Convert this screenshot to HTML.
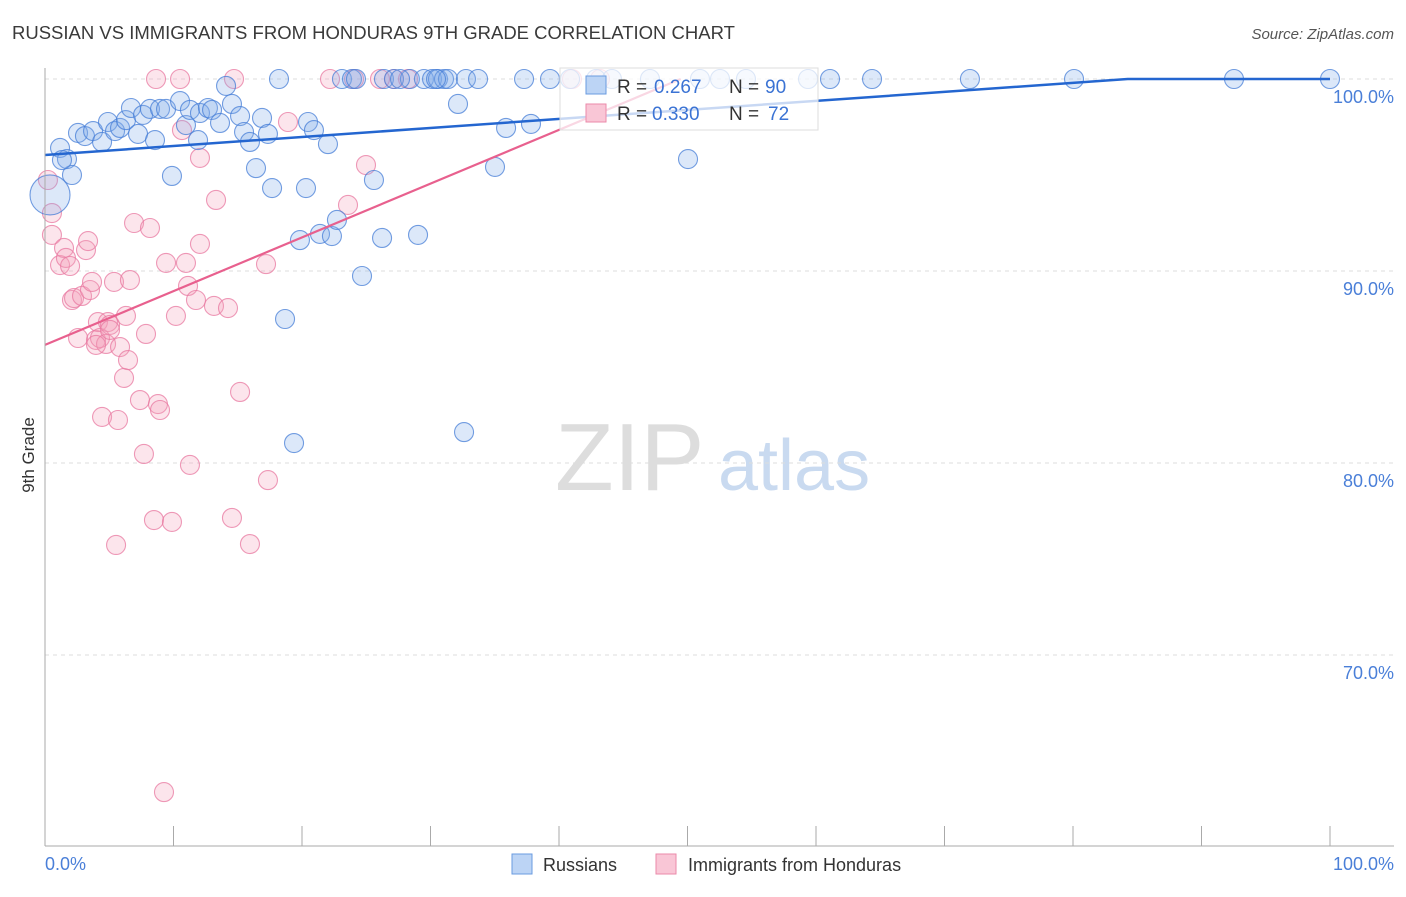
<!DOCTYPE html>
<html><head><meta charset="utf-8"><style>
body{margin:0;background:#fff;font-family:"Liberation Sans",sans-serif}
svg text{font-family:"Liberation Sans",sans-serif}
</style></head><body>
<svg id="chart" width="1406" height="892" xmlns="http://www.w3.org/2000/svg">
<text x="12" y="39" font-size="18.5" fill="#3a3a3a">RUSSIAN VS IMMIGRANTS FROM HONDURAS 9TH GRADE CORRELATION CHART</text>
<text x="1394" y="39" font-size="15" fill="#555" text-anchor="end" font-style="italic">Source: ZipAtlas.com</text>
<text x="555" y="490" font-size="96" fill="#ddd" font-family="Liberation Serif">ZIP</text>
<text x="718" y="490" font-size="72" fill="#c9daf0">atlas</text>
<g id="grid"></g><g id="pts"></g><g id="lines"></g>
<line x1="45" y1="68" x2="45" y2="846" stroke="#aaa"/>
<line x1="45" y1="846" x2="1394" y2="846" stroke="#aaa"/>
<text x="34" y="455" font-size="17" fill="#333" text-anchor="middle" transform="rotate(-90 34 455)">9th Grade</text>
<text x="45" y="870" font-size="18" fill="#4a7fd8">0.0%</text>
<text x="1394" y="870" font-size="18" fill="#4a7fd8" text-anchor="end">100.0%</text>
<g>
<rect x="560" y="68" width="258" height="62" fill="rgba(255,255,255,0.75)" stroke="#ddd"/>
<rect x="586" y="76" width="20" height="18" fill="#bcd4f5" stroke="#6a9be0"/>
<rect x="586" y="104" width="20" height="18" fill="#f9c6d6" stroke="#eb8aaa"/>
<text x="617" y="93" font-size="19" fill="#333">R =</text>
<text x="654" y="93" font-size="19" fill="#3b73d4">0.267</text>
<text x="729" y="93" font-size="19" fill="#333">N =</text>
<text x="765" y="93" font-size="19" fill="#3b73d4">90</text>
<text x="617" y="120" font-size="19" fill="#333">R =</text>
<text x="652" y="120" font-size="19" fill="#3b73d4">0.330</text>
<text x="729" y="120" font-size="19" fill="#333">N =</text>
<text x="768" y="120" font-size="19" fill="#3b73d4">72</text>
</g>
<g>
<rect x="512" y="854" width="20" height="20" fill="#bcd4f5" stroke="#6a9be0"/>
<text x="543" y="871" font-size="18" fill="#333">Russians</text>
<rect x="656" y="854" width="20" height="20" fill="#f9c6d6" stroke="#eb8aaa"/>
<text x="688" y="871" font-size="18" fill="#333">Immigrants from Honduras</text>
</g>
</svg>
<script>
const yTicks=[100,90,80,70];
const yTickLabels=["100.0%","90.0%","80.0%","70.0%"];
const bluePx=[[50,195],[60,148],[67,159],[72,175],[78,133],[85,136],[93,131],[102,142],[108,122],[115,131],[120,128],[126,120],[131,108],[138,134],[143,115],[150,109],[155,140],[160,109],[166,109],[172,176],[180,101],[186,125],[190,110],[200,113],[198,140],[208,108],[212,110],[220,123],[226,86],[232,104],[240,116],[244,132],[250,142],[256,168],[262,118],[268,134],[272,188],[279,79],[285,319],[294,443],[300,240],[306,188],[308,122],[314,130],[320,234],[328,144],[332,236],[337,220],[342,79],[352,79],[362,276],[374,180],[382,238],[384,79],[394,79],[410,79],[418,235],[424,79],[432,79],[438,79],[444,79],[448,79],[458,104],[464,432],[466,79],[478,79],[495,167],[506,128],[524,79],[531,124],[550,79],[570,79],[650,79],[688,159],[700,79],[720,79],[746,79],[808,79],[830,79],[872,79],[970,79],[1074,79],[1234,79],[1330,79],[596,79],[612,79],[356,79],[400,79],[436,79],[62,160]];
const pinkPx=[[48,180],[52,213],[52,235],[60,265],[64,248],[66,258],[70,266],[72,300],[74,298],[78,338],[82,296],[86,250],[88,241],[90,290],[92,282],[96,340],[98,322],[100,338],[102,417],[106,344],[108,322],[110,325],[114,282],[116,545],[118,420],[120,347],[124,378],[126,316],[128,360],[130,280],[134,223],[140,400],[144,454],[146,334],[150,228],[154,520],[156,79],[158,404],[160,410],[164,792],[166,263],[172,522],[176,316],[180,79],[182,130],[186,263],[188,286],[190,465],[196,300],[200,244],[200,158],[214,306],[216,200],[228,308],[232,518],[234,79],[240,392],[250,544],[266,264],[268,480],[288,122],[330,79],[348,205],[366,165],[394,79],[408,79],[572,79],[600,79],[354,79],[380,79],[110,330],[96,345]];
const russiansX=bluePx.map(p=>+((p[0]-45)/12.85).toFixed(2));
const russiansY=bluePx.map(p=>+(100-(p[1]-79)/19.2).toFixed(2));
const hondurasX=pinkPx.map(p=>+((p[0]-45)/12.85).toFixed(2));
const hondurasY=pinkPx.map(p=>+(100-(p[1]-79)/19.2).toFixed(2));
const blueTrend=[96.04,0.047];
const pinkTrend=[86.15,0.28];
const bigPoints=[0];
const xs=v=>45+v*12.85, ys=v=>79+(100-v)*19.2;
const NS="http://www.w3.org/2000/svg";
function mk(t,a,p){const e=document.createElementNS(NS,t);for(const k in a)e.setAttribute(k,a[k]);p.appendChild(e);return e;}
const grid=document.getElementById('grid');
yTicks.forEach((t,i)=>{
 const l=mk('line',{x1:45,x2:1394,y1:ys(t),y2:ys(t),stroke:'#ddd','stroke-dasharray':'4,4'},grid);
 
 
 const tx=mk('text',{x:1394,y:ys(t)+24,'font-size':18,fill:'#4a7fd8','text-anchor':'end'},grid);
 tx.textContent=yTickLabels[i];
 
 
});
for(let i=1;i<=10;i++){
 const l=mk('line',{x1:45+i*128.5,x2:45+i*128.5,y1:826,y2:846,stroke:'#aaa'},grid);
 
 
}
const pts=document.getElementById('pts');
hondurasX.forEach((x,i)=>{
 const c=mk('circle',{cx:xs(x),cy:ys(hondurasY[i]),r:9.5,fill:'rgba(244,160,188,0.28)',stroke:'rgba(232,120,160,0.75)','stroke-width':1.1},pts);
 
 
});
russiansX.forEach((x,i)=>{
 const c=mk('circle',{cx:xs(x),cy:ys(russiansY[i]),r:bigPoints.includes(i)?20:9.5,fill:'rgba(130,172,232,0.28)',stroke:'rgba(70,125,215,0.75)','stroke-width':1.1},pts);
 
 
});
const lines=document.getElementById('lines');
const bEnd=(100-blueTrend[0])/blueTrend[1];
let l1=mk('path',{d:`M${xs(0)},${ys(blueTrend[0])}L${xs(bEnd)},${ys(100)}L${xs(100)},${ys(100)}`,stroke:'#2466d0','stroke-width':2.5,fill:'none'},lines);


const pEnd=(100-pinkTrend[0])/pinkTrend[1];
let l2=mk('line',{x1:xs(0),y1:ys(pinkTrend[0]),x2:xs(pEnd),y2:ys(100),stroke:'#e8608e','stroke-width':2.2},lines);


</script>
</body></html>
